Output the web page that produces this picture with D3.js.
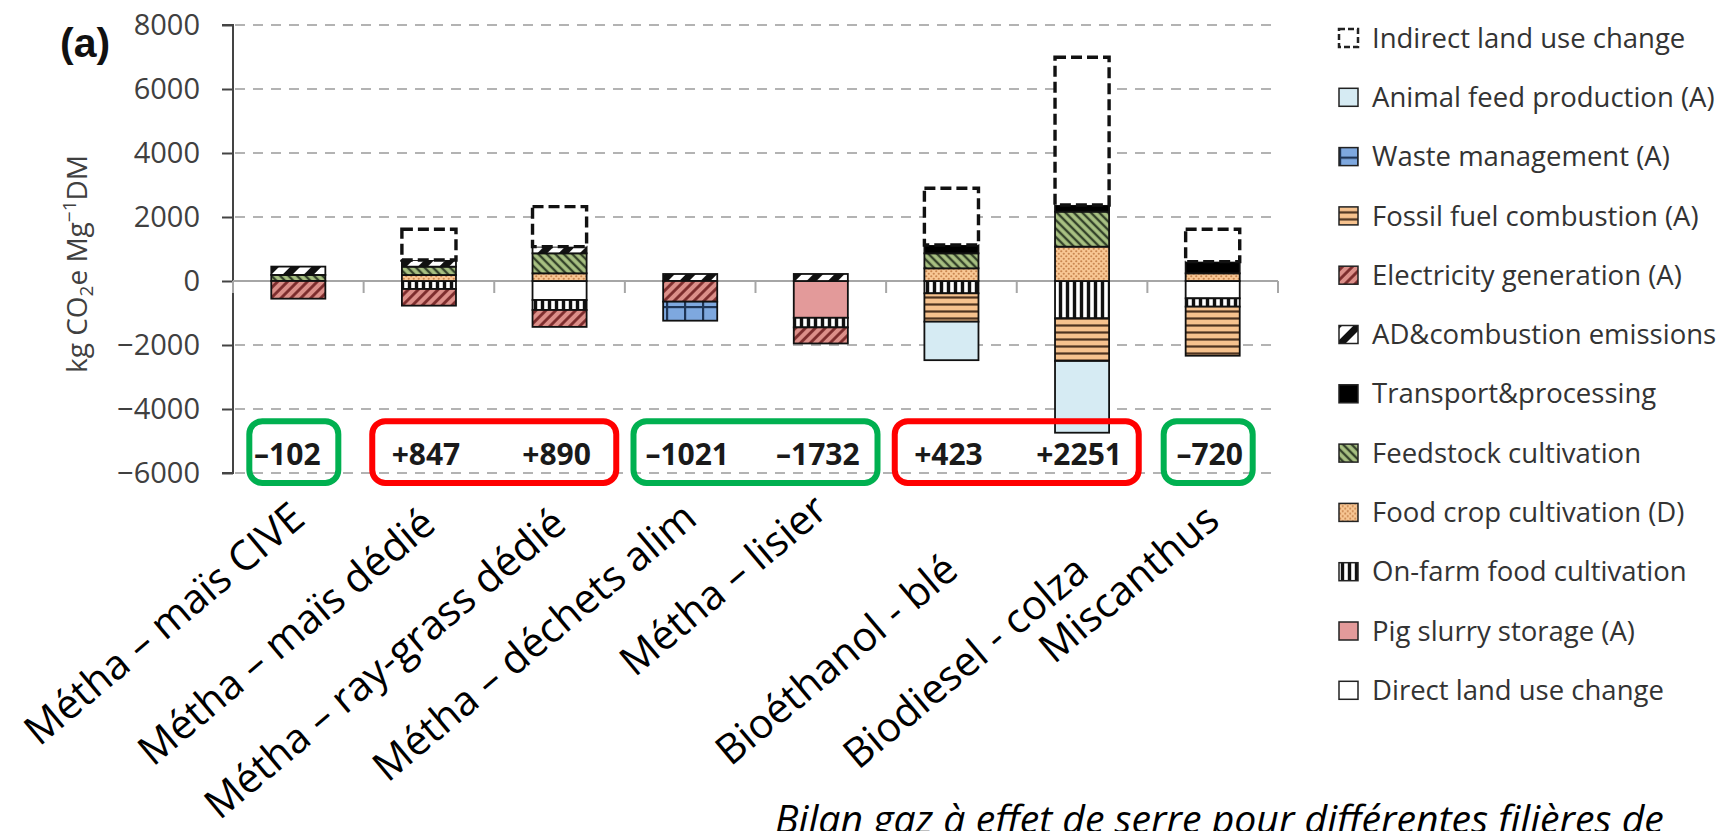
<!DOCTYPE html>
<html><head><meta charset="utf-8">
<script src="https://cdn.jsdelivr.net/npm/d3@7"></script>
<style>body{margin:0;background:#fff;} svg{display:block;}</style>
</head><body>
<svg id="chart" width="1723" height="831"></svg>
<script>
// ---------------- DATA ----------------
const categories = ["Métha – maïs CIVE", "Métha – maïs dédié", "Métha – ray-grass dédié", "Métha – déchets alim",
  "Métha – lisier", "Bioéthanol - blé", "Biodiesel - colza", "Miscanthus"];
const seriesNames = ["Indirect land use change", "Animal feed production (A)", "Waste management (A)",
  "Fossil fuel combustion (A)", "Electricity generation (A)", "AD&combustion emissions", "Transport&processing",
  "Feedstock cultivation", "Food crop cultivation (D)", "On-farm food cultivation", "Pig slurry storage (A)",
  "Direct land use change"];
// values in kg CO2e / Mg DM, one per category
const indirectLUC   = [0, 959, 1251, 0, 0, 1772, 4616, 1011];
const animalFeed    = [0, 0, 0, 0, 0, -1203, -2241, 0];
const wasteMgmt     = [0, 0, 0, -594, 0, 0, 0, 0];
const fossilFuel    = [0, 0, 0, 0, 0, -886, -1333, -1533];
const electricity   = [-552, -520, -528, -646, -502, 0, 0, 0];
const adCombustion  = [260, 208, 208, 219, 220, 0, 0, 0];
const transport     = [0, 0, 0, 0, 0, 260, 209, 365];
const feedstock     = [190, 260, 625, 0, 0, 469, 1094, 0];
const foodCrop      = [0, 188, 240, 0, 0, 396, 1073, 240];
const onFarmFood    = [0, -250, -312, 0, -300, -385, -1167, -260];
const pigSlurry     = [0, 0, 0, 0, -1150, 0, 0, 0];
const directLUC     = [0, 0, -594, 0, 0, 0, 0, -542];
const netValues     = [-102, 847, 890, -1021, -1732, 423, 2251, -720];
const yTickValues   = [8000, 6000, 4000, 2000, 0, -2000, -4000, -6000];
const netGroups     = [[0], [1, 2], [3, 4], [5, 6], [7]];
const caption = "Bilan gaz à effet de serre pour différentes filières de";

// ---------------- LAYOUT / STYLE ----------------
const seriesArrays = [indirectLUC, animalFeed, wasteMgmt, fossilFuel, electricity, adCombustion, transport,
  feedstock, foodCrop, onFarmFood, pigSlurry, directLUC];
const keys = ["iluc", "animal", "waste", "fossil", "elec", "ad", "transport", "feed", "food", "onfarm", "pig", "dluc"];
const stackKeys = keys.slice().reverse(); // Excel-like stacking: last legend entry closest to zero
const groupColors = ["#00b050", "#ff0000", "#00b050", "#ff0000", "#00b050"];
const labelDy = [0, 6, 6, 0, -8, 52, 53, 2];

const svg = d3.select("#chart");
const defs = svg.append("defs");
const FONT = "'Open Sans', 'DejaVu Sans', sans-serif";

function stripe(id, size, bg, color, sw, angle, horizontal) {
  const p = defs.append("pattern").attr("id", id).attr("patternUnits", "userSpaceOnUse")
    .attr("width", size).attr("height", size);
  if (angle) p.attr("patternTransform", `rotate(${angle})`);
  p.append("rect").attr("width", size).attr("height", size).attr("fill", bg);
  if (horizontal) p.append("rect").attr("x", 0).attr("y", (size - sw) / 2).attr("width", size).attr("height", sw).attr("fill", color);
  else p.append("rect").attr("x", (size - sw) / 2).attr("y", 0).attr("width", sw).attr("height", size).attr("fill", color);
}
stripe("p-elec", 7, "#dc8f89", "#7a2a2a", 2.8, 45, false);
stripe("p-feed", 6, "#a9c283", "#34422a", 2.4, -45, false);
stripe("p-ad", 15, "#ffffff", "#111111", 7, 45, false);
stripe("p-fossil", 7, "#f6c28e", "#4d3320", 2.2, 0, true);
stripe("p-onfarm", 7, "#ffffff", "#111111", 3.4, 0, false);
(function () {
  const p = defs.append("pattern").attr("id", "p-food").attr("patternUnits", "userSpaceOnUse").attr("width", 5).attr("height", 5);
  p.append("rect").attr("width", 5).attr("height", 5).attr("fill", "#f8c794");
  p.append("circle").attr("cx", 1.25).attr("cy", 1.25).attr("r", 1.1).attr("fill", "#c98650");
  p.append("circle").attr("cx", 3.75).attr("cy", 3.75).attr("r", 1.1).attr("fill", "#c98650");
  const w = defs.append("pattern").attr("id", "p-waste").attr("patternUnits", "userSpaceOnUse").attr("width", 18).attr("height", 18);
  w.append("rect").attr("width", 18).attr("height", 18).attr("fill", "#7ea8df");
  w.append("rect").attr("x", 0).attr("y", 0).attr("width", 2.2).attr("height", 18).attr("fill", "#1e3455");
  w.append("rect").attr("x", 0).attr("y", 0).attr("width", 18).attr("height", 2.2).attr("fill", "#1e3455");
})();

const fills = {
  iluc: "#ffffff", animal: "#d6ebf3", waste: "url(#p-waste)", fossil: "url(#p-fossil)", elec: "url(#p-elec)",
  ad: "url(#p-ad)", transport: "#000000", feed: "url(#p-feed)", food: "url(#p-food)", onfarm: "url(#p-onfarm)",
  pig: "#e39a9a", dluc: "#ffffff"
};

const plotLeft = 233, plotRight = 1278;
const y = d3.scaleLinear().domain([-6000, 8000]).range([473, 25]);
const x = d3.scaleBand().domain(categories).range([plotLeft, plotRight]).paddingInner(0.586).paddingOuter(0.293);
const step = x.step();
const cx = c => x(c) + x.bandwidth() / 2;

// gridlines
svg.append("g").selectAll("line").data(yTickValues.filter(v => v !== 0)).join("line")
  .attr("x1", plotLeft + 2).attr("x2", plotRight).attr("y1", d => y(d)).attr("y2", d => y(d))
  .attr("stroke", "#b3b3b3").attr("stroke-width", 2).attr("stroke-dasharray", "10,8");

// y axis
const yAxis = d3.axisLeft(y).tickValues(yTickValues).tickSize(11).tickPadding(22).tickFormat(d3.format("d"));
const gy = svg.append("g").attr("transform", `translate(${plotLeft},0)`).call(yAxis);
gy.select(".domain").attr("stroke", "#444").attr("stroke-width", 2).attr("d", `M-11,${y(8000)}H0V${y(-6000)}H-11`);
gy.selectAll(".tick line").attr("stroke", "#444").attr("stroke-width", 2);
gy.selectAll(".tick text").attr("font-family", FONT).attr("font-size", 29).attr("fill", "#404040")
  .text(d => d < 0 ? "−" + Math.abs(d) : d);

// zero line with category ticks
svg.append("line").attr("x1", plotLeft).attr("x2", plotRight).attr("y1", y(0)).attr("y2", y(0))
  .attr("stroke", "#a6a6a6").attr("stroke-width", 2);
svg.append("g").selectAll("line").data(d3.range(categories.length + 1)).join("line")
  .attr("x1", i => plotLeft + i * step).attr("x2", i => plotLeft + i * step)
  .attr("y1", y(0)).attr("y2", y(0) + 12).attr("stroke", "#a6a6a6").attr("stroke-width", 2);

// stacked bars
const rows = categories.map((c, i) => {
  const r = { cat: c };
  keys.forEach((k, j) => r[k] = seriesArrays[j][i]);
  return r;
});
const stacked = d3.stack().keys(stackKeys).order(d3.stackOrderNone).offset(d3.stackOffsetDiverging)(rows);
const gBars = svg.append("g");
stacked.forEach(s => {
  const k = s.key;
  gBars.append("g").selectAll("rect").data(s.filter(d => d[1] !== d[0])).join("rect")
    .attr("x", d => x(d.data.cat)).attr("width", x.bandwidth())
    .attr("y", d => y(d[1])).attr("height", d => y(d[0]) - y(d[1]))
    .attr("fill", fills[k])
    .attr("stroke", "#111").attr("stroke-width", k === "iluc" ? 3.4 : 1.8)
    .attr("stroke-dasharray", k === "iluc" ? "11,5" : null);
});

// net value boxes
const boxTop = y(-4380), boxBottom = y(-6310);
netGroups.forEach((g, gi) => {
  const c0 = cx(categories[g[0]]), c1 = cx(categories[g[g.length - 1]]);
  let left, right;
  if (g.length > 1) { const m = (c0 + c1) / 2; left = m - 122; right = m + 122; }
  else { left = c0 - 49; right = c0 + 40; }
  svg.append("rect").attr("x", left).attr("y", boxTop).attr("width", right - left).attr("height", boxBottom - boxTop)
    .attr("rx", 13).attr("ry", 13).attr("fill", "none").attr("stroke", groupColors[gi]).attr("stroke-width", 6);
});
svg.append("g").selectAll("text").data(categories).join("text")
  .attr("x", (d, i) => cx(d) - (i === 0 ? 11 : 3)).attr("y", y(-5760))
  .attr("text-anchor", "middle").attr("font-family", FONT).attr("font-weight", 700).attr("font-size", 30).attr("fill", "#1a1a1a")
  .text((d, i) => (netValues[i] > 0 ? "+" : "–") + Math.abs(netValues[i]));

// category labels
svg.append("g").selectAll("text").data(categories).join("text")
  .attr("transform", (d, i) => `translate(${cx(d) + 9},${522 + labelDy[i]}) rotate(-40)`)
  .attr("text-anchor", "end").attr("font-family", FONT).attr("font-size", 41).attr("fill", "#000")
  .text(d => d);

// y axis title
const yt = svg.append("text").attr("transform", "translate(87,264) rotate(-90)").attr("text-anchor", "middle")
  .attr("font-family", FONT).attr("font-size", 28).attr("fill", "#404040");
yt.append("tspan").text("kg CO");
yt.append("tspan").attr("font-size", 19).attr("dy", 6).text("2");
yt.append("tspan").attr("dy", -6).text("e Mg");
yt.append("tspan").attr("font-size", 19).attr("dy", -11).text("−1");
yt.append("tspan").attr("dy", 11).text("DM");

// panel letter
svg.append("text").attr("x", 60).attr("y", 57).attr("font-family", "'Liberation Sans', Arial, sans-serif")
  .attr("font-weight", 700).attr("font-size", 41).attr("fill", "#111").text("(a)");

// legend
const lg = svg.append("g").attr("transform", "translate(1339,38)");
const items = lg.selectAll("g").data(seriesNames).join("g").attr("transform", (d, i) => `translate(0,${i * 59.3})`);
items.append("rect").attr("x", 0).attr("y", -9).attr("width", 19).attr("height", 18)
  .attr("fill", (d, i) => fills[keys[i]]).attr("stroke", "#222")
  .attr("stroke-width", (d, i) => i === 0 ? 2.5 : 1.5).attr("stroke-dasharray", (d, i) => i === 0 ? "6,3" : null);
items.append("text").attr("x", 33).attr("y", 0).attr("dy", "0.35em").attr("font-family", FONT)
  .attr("font-size", 27.5).attr("fill", "#333").text(d => d);

// caption
svg.append("text").attr("x", 775).attr("y", 833).attr("font-family", FONT).attr("font-style", "italic")
  .attr("font-size", 39.2).attr("fill", "#000").text(caption);
</script>
</body></html>
